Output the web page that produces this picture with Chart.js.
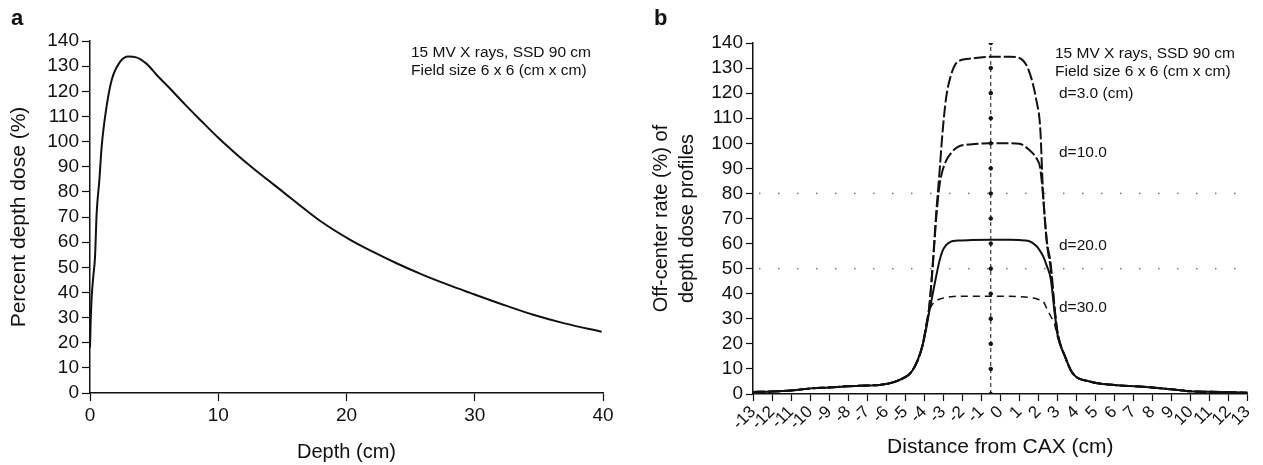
<!DOCTYPE html>
<html>
<head>
<meta charset="utf-8">
<script src="https://cdn.jsdelivr.net/npm/chart.js@4/dist/chart.umd.min.js"></script>
<style>
  body { margin: 0; background: #fff; width: 1263px; height: 465px; overflow: hidden; position: relative;
         font-family: "Liberation Sans", Arial, sans-serif; color: #111; }
  .box { position: absolute; top: 0; height: 465px; }
  #boxA { left: 0; width: 630px; }
  #boxB { left: 630px; width: 633px; }
  .panel { position: absolute; font-weight: bold; font-size: 22px; line-height: 22px; }
  .note { position: absolute; font-size: 15.5px; line-height: 18px; white-space: nowrap; }
</style>
</head>
<body>
<div class="box" id="boxA"><canvas id="pddChart"></canvas></div>
<div class="box" id="boxB"><canvas id="profileChart"></canvas></div>

<div class="panel" style="left:11px;top:7px">a</div>
<div class="panel" style="left:654px;top:7px">b</div>

<div class="note" style="left:411px;top:43px">15 MV X rays, SSD 90 cm<br>Field size 6 x 6 (cm x cm)</div>
<div class="note" style="left:1055px;top:44px">15 MV X rays, SSD 90 cm<br>Field size 6 x 6 (cm x cm)</div>
<div class="note" style="left:1059px;top:84px">d=3.0 (cm)</div>
<div class="note" style="left:1059px;top:143px">d=10.0</div>
<div class="note" style="left:1059px;top:236px">d=20.0</div>
<div class="note" style="left:1059px;top:298px">d=30.0</div>

<script>
// panel a: percent depth dose
const depthCm = [0, 0.05, 0.13, 0.25, 0.39, 0.52, 0.73, 0.91, 1.25, 1.69, 2.34, 3.0, 3.6, 4.4, 5.2, 6.2,
                 7.4, 8.6, 10, 11.15, 12.5, 13.8, 15, 16.4, 17.9, 20.26, 22, 23.9, 26, 28, 29.6, 32, 34.5, 37, 39.9];
const pddPercent = [18, 28, 38, 46, 54, 71.6, 84.7, 98, 112.5, 124.5, 131.7, 133.8, 133.5, 131, 126.5, 121.3,
                    114.8, 108.6, 101.5, 96.2, 90.3, 85, 80.2, 74.5, 68.6, 61, 56.3, 51.6, 46.9, 42.9, 39.9, 35.5, 31.2, 27.7, 24.4];

// panel b: off-center profiles
const offAxisCm = [-13, -12, -11, -10, -9, -8, -7, -6.35, -5.3, -4.6,
                   -4.1, -3.9, -3.73, -3.55, -3.37, -3.2, -3.04, -2.85, -2.6, -2.25,
                   -1.5, -0.5, 0.5, 1.0, 1.5, 1.9, 2.1, 2.25, 2.45, 2.65,
                   2.85, 3.0, 3.4, 3.8, 4.7, 6, 7.3, 9.1, 10, 11,
                   12, 13];
const profileD3 = [0.8, 1.0, 1.4, 2.2, 2.6, 3.1, 3.4, 3.6, 5.6, 9.6,
                   19, 27, 35, 52, 72, 88, 104, 118, 127, 132.5,
                   133.8, 134.5, 134.5, 134, 129, 117, 106, 80, 61, 52,
                   35, 25, 15, 8.3, 5, 3.6, 3.0, 1.8, 1.1, 0.9,
                   0.7, 0.5];
const profileD10 = [0.8, 1.0, 1.4, 2.2, 2.6, 3.1, 3.4, 3.6, 5.6, 9.6,
                    19, 27, 35, 51, 70, 83, 89, 93, 96, 98.5,
                    99.6, 100, 100, 99.8, 97.5, 94, 90, 79, 60, 50,
                    34, 25, 15, 8.3, 5, 3.6, 3.0, 1.8, 1.1, 0.9,
                    0.7, 0.5];
const profileD20 = [0.8, 1.0, 1.4, 2.2, 2.6, 3.1, 3.4, 3.6, 5.6, 9.6,
                    19, 26, 33, 40, 47, 53, 57, 59.4, 60.8, 61.2,
                    61.4, 61.5, 61.5, 61.4, 61, 59, 57, 55, 51, 46,
                    33, 24, 15, 8.3, 5, 3.6, 3.0, 1.8, 1.1, 0.9,
                    0.7, 0.5];
const profileD30 = [0.8, 1.0, 1.4, 2.2, 2.6, 3.1, 3.4, 3.6, 5.6, 9.6,
                    19, 26, 33, 36, 37.3, 37.8, 38.2, 38.5, 38.8, 39,
                    39, 39, 39, 38.8, 38.5, 38, 37.5, 37, 34, 31,
                    28, 23, 15, 8.3, 5, 3.6, 3.0, 1.8, 1.1, 0.9,
                    0.7, 0.5];
const caxCm = -0.5;
const caxLevels = [0, 10, 20, 30, 40, 50, 60, 70, 80, 90, 100, 110, 120, 130, 140];

// tick labels
const depthTicks = [0, 10, 20, 30, 40];
const percentTicks = [0, 10, 20, 30, 40, 50, 60, 70, 80, 90, 100, 110, 120, 130, 140];
const offAxisTicks = [-13, -12, -11, -10, -9, -8, -7, -6, -5, -4, -3, -2, -1, 0,
                      1, 2, 3, 4, 5, 6, 7, 8, 9, 10, 11, 12, 13];
const dottedLevels = [80, 50];

const ink = '#111';
const fontFam = '"Liberation Sans", Arial, sans-serif';

function toPoints(xs, ys) {
  return xs.map((x, i) => ({ x: x, y: ys[i] }));
}

function setTicks(list) {
  return scale => { scale.ticks = list.map(v => ({ value: v })); };
}

function lineSet(data, dash, width) {
  return {
    data: data, showLine: true, borderColor: ink, borderWidth: width, borderDash: dash,
    pointRadius: 0, fill: false, cubicInterpolationMode: 'monotone'
  };
}

const pddChart = new Chart(document.getElementById('pddChart'), {
  type: 'scatter',
  data: { datasets: [lineSet(toPoints(depthCm, pddPercent), [], 2)] },
  options: {
    responsive: true, maintainAspectRatio: false, animation: false,
    layout: { padding: { left: 0, top: 41, right: 27, bottom: 0 } },
    plugins: { legend: { display: false }, tooltip: { enabled: false } },
    scales: {
      x: {
        type: 'linear', min: 0, max: 40,
        afterBuildTicks: setTicks(depthTicks),
        afterFit: s => { s.height = 72; },
        border: { color: ink, width: 1.5 },
        grid: { drawOnChartArea: false, tickLength: 8, tickColor: ink, tickWidth: 1.2 },
        ticks: { color: ink, padding: 3, maxRotation: 0, autoSkip: false, font: { family: fontFam, size: 19 } },
        title: { display: true, text: 'Depth (cm)', color: ink, padding: { top: 0, bottom: 1 },
                 font: { family: fontFam, size: 20 } }
      },
      y: {
        type: 'linear', min: 0, max: 140,
        afterBuildTicks: setTicks(percentTicks),
        afterFit: s => { s.width = 90; },
        border: { color: ink, width: 1.5 },
        grid: { drawOnChartArea: false, tickLength: 8, tickColor: ink, tickWidth: 1.2 },
        ticks: { color: ink, padding: 3, autoSkip: false, font: { family: fontFam, size: 19 } },
        title: { display: true, text: 'Percent depth dose (%)', color: ink, padding: { top: 7, bottom: 0 },
                 font: { family: fontFam, size: 21 } }
      }
    }
  }
});

const caxLine = caxLevels.map(v => ({ x: caxCm, y: v }));

const profileChart = new Chart(document.getElementById('profileChart'), {
  type: 'scatter',
  data: {
    datasets: [
      lineSet(toPoints(offAxisCm, profileD3), [12, 3], 2),
      lineSet(toPoints(offAxisCm, profileD10), [12, 3], 2),
      lineSet(toPoints(offAxisCm, profileD20), [], 2),
      lineSet(toPoints(offAxisCm, profileD30), [7, 5], 1.5),
      {
        data: caxLine, showLine: true, borderColor: ink, borderWidth: 1, borderDash: [4, 3],
        pointRadius: 1.8, pointBackgroundColor: ink, pointBorderColor: ink, fill: false
      }
    ]
  },
  options: {
    responsive: true, maintainAspectRatio: false, animation: false,
    layout: { padding: { left: 0, top: 43, right: 15, bottom: 0 } },
    plugins: { legend: { display: false }, tooltip: { enabled: false } },
    scales: {
      x: {
        type: 'linear', min: -13, max: 13,
        afterBuildTicks: setTicks(offAxisTicks),
        afterFit: s => { s.height = 71; },
        border: { color: ink, width: 1.5 },
        grid: { drawOnChartArea: false, tickLength: 7, tickColor: ink, tickWidth: 1.2 },
        ticks: { color: ink, padding: 1, autoSkip: false, minRotation: 45, maxRotation: 45,
                 font: { family: fontFam, size: 17 } },
        title: { display: true, text: 'Distance from CAX (cm)', color: ink, padding: { top: 0, bottom: 5 },
                 font: { family: fontFam, size: 21 } }
      },
      y: {
        type: 'linear', min: 0, max: 140,
        afterBuildTicks: setTicks(percentTicks),
        afterFit: s => { s.width = 123; },
        border: { color: ink, width: 1.5 },
        grid: { drawOnChartArea: false, tickLength: 7, tickColor: ink, tickWidth: 1.2 },
        ticks: { color: ink, padding: 3, autoSkip: false, font: { family: fontFam, size: 19 } },
        title: { display: true, text: ['Off-center rate (%) of', 'depth dose profiles'], color: ink,
                 padding: { top: 18, bottom: 0 }, font: { family: fontFam, size: 20, lineHeight: 1.3 } }
      }
    }
  },
  plugins: [{
    // sparse dotted reference lines, like the scanned figure
    id: 'dotGrid',
    beforeDatasetsDraw(chart) {
      const { ctx, chartArea } = chart;
      const y = chart.scales.y;
      ctx.save();
      ctx.fillStyle = '#777';
      dottedLevels.forEach(v => {
        const py = y.getPixelForValue(v);
        for (let px = chartArea.left + 6; px < chartArea.right; px += 19) {
          ctx.fillRect(px, py - 0.75, 1.5, 1.5);
        }
      });
      ctx.restore();
    }
  }]
});
</script>
</body>
</html>
